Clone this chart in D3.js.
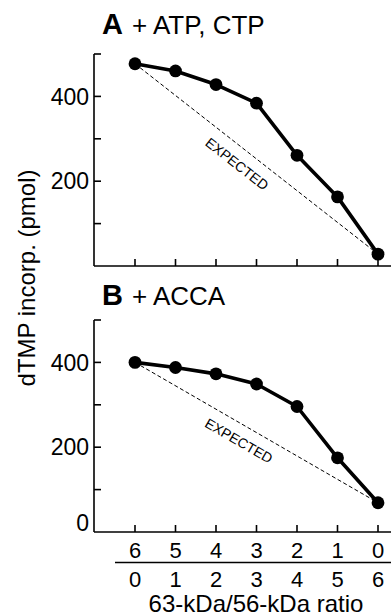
<!DOCTYPE html>
<html>
<head>
<meta charset="utf-8">
<script src="https://cdn.jsdelivr.net/npm/d3@7"></script>
<style>
  body { margin: 0; background: #fff; }
  svg { display: block; }
  text { font-family: "Liberation Sans", Arial, Helvetica, sans-serif; fill: #000; }
</style>
</head>
<body>
<div id="chart"></div>
<script>
//Datos
const ratio56 = [0, 1, 2, 3, 4, 5, 6];
const ratio63 = [6, 5, 4, 3, 2, 1, 0];
const valuesA = [477, 460, 428, 384, 261, 163, 28];
const valuesB = [400, 388, 373, 349, 296, 175, 69];
const yTicks = [100, 200, 300, 400, 500];
const yLabelsA = [200, 400];
const yLabelsB = [0, 200, 400];

const W = 391, H = 616;

let svg = d3.select("#chart").append("svg")
    .attr("width", W)
    .attr("height", H);

//Eje X común
let x = d3.scaleLinear()
    .domain([0, 6])
    .range([135, 378]);

function drawPanel(values, letter, label, top, bottom, yLabels, titleY) {
    let y = d3.scaleLinear()
        .domain([0, 500])
        .range([bottom, top]);

    let g = svg.append("g");

    //Eje Y
    g.append("line")
        .attr("x1", 94).attr("x2", 94)
        .attr("y1", y(500)).attr("y2", y(0))
        .attr("stroke", "#000").attr("stroke-width", 1.6);

    g.selectAll(".ytick")
        .data(yTicks)
        .enter().append("line")
        .attr("x1", 94).attr("x2", 101)
        .attr("y1", d => y(d)).attr("y2", d => y(d))
        .attr("stroke", "#000").attr("stroke-width", 1.6);

    g.selectAll(".ylab")
        .data(yLabels)
        .enter().append("text")
        .attr("x", 89)
        .attr("y", d => y(d))
        .attr("dy", d => d === 0 ? "-0.05em" : "0.36em")
        .attr("text-anchor", "end")
        .style("font-size", "23px")
        .text(d => d);

    //Eje X
    g.append("line")
        .attr("x1", 94).attr("x2", W)
        .attr("y1", y(0)).attr("y2", y(0))
        .attr("stroke", "#000").attr("stroke-width", 1.6);

    g.selectAll(".xtick")
        .data(ratio56)
        .enter().append("line")
        .attr("x1", d => x(d)).attr("x2", d => x(d))
        .attr("y1", y(0)).attr("y2", y(0) - 7)
        .attr("stroke", "#000").attr("stroke-width", 1.6);

    //Esperado
    let first = [x(ratio56[0]), y(values[0])];
    let last = [x(ratio56[6]), y(values[6])];
    g.append("line")
        .attr("x1", first[0]).attr("y1", first[1])
        .attr("x2", last[0]).attr("y2", last[1])
        .attr("stroke", "#000").attr("stroke-width", 1)
        .attr("stroke-dasharray", "4,2.5");

    let ang = Math.atan2(last[1] - first[1], last[0] - first[0]);
    let t = 0.46;
    let mx = first[0] + t * (last[0] - first[0]);
    let my = first[1] + t * (last[1] - first[1]);
    let off = 9;
    g.append("text")
        .attr("transform", "translate(" + (mx - Math.sin(ang) * off) + "," + (my + Math.cos(ang) * off) + ") rotate(" + (ang * 180 / Math.PI) + ")")
        .attr("text-anchor", "middle")
        .attr("dy", "0.85em")
        .style("font-size", "14px")
        .text("EXPECTED");

    //Línea de datos
    let line = d3.line()
        .x((d, i) => x(ratio56[i]))
        .y(d => y(d));

    g.append("path")
        .datum(values)
        .attr("d", line)
        .attr("fill", "none")
        .attr("stroke", "#000")
        .attr("stroke-width", 3.6)
        .attr("stroke-linejoin", "round");

    g.selectAll(".dot")
        .data(values)
        .enter().append("circle")
        .attr("cx", (d, i) => x(ratio56[i]))
        .attr("cy", d => y(d))
        .attr("r", 6.4)
        .attr("fill", "#000");

    //Título
    let title = g.append("text")
        .attr("x", 102)
        .attr("y", titleY)
        .style("font-size", "26px");
    title.append("tspan").style("font-weight", "bold").style("font-size", "29px").text(letter);
    title.append("tspan").attr("dx", 9).text(label);
}

drawPanel(valuesA, "A", "+ ATP, CTP", 54, 266, yLabelsA, 34);
drawPanel(valuesB, "B", "+ ACCA", 320, 532, yLabelsB, 305);

//Etiquetas X
svg.selectAll(".xl63")
    .data(ratio63)
    .enter().append("text")
    .attr("x", (d, i) => x(ratio56[i]))
    .attr("y", 558)
    .attr("text-anchor", "middle")
    .style("font-size", "22px")
    .text(d => d);

svg.append("line")
    .attr("x1", 115).attr("x2", W)
    .attr("y1", 562.5).attr("y2", 562.5)
    .attr("stroke", "#000").attr("stroke-width", 1.6);

svg.selectAll(".xl56")
    .data(ratio56)
    .enter().append("text")
    .attr("x", d => x(d))
    .attr("y", 587)
    .attr("text-anchor", "middle")
    .style("font-size", "22px")
    .text(d => d);

svg.append("text")
    .attr("x", 256)
    .attr("y", 612)
    .attr("text-anchor", "middle")
    .style("font-size", "24px")
    .text("63-kDa/56-kDa ratio");

//Título eje Y
svg.append("text")
    .attr("transform", "translate(35,278) rotate(-90)")
    .attr("text-anchor", "middle")
    .style("font-size", "24px")
    .text("dTMP incorp. (pmol)");
</script>
</body>
</html>
